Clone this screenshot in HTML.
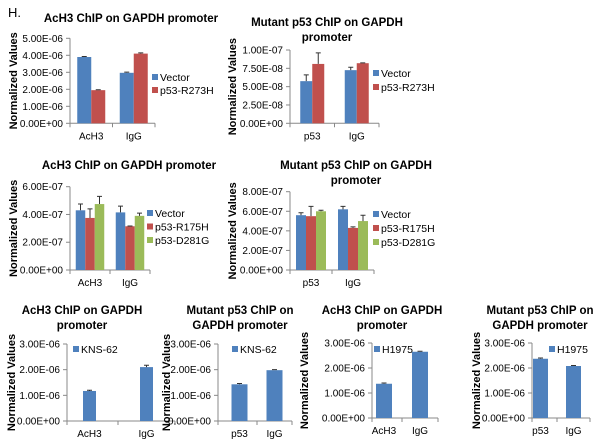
<!DOCTYPE html>
<html><head><meta charset="utf-8"><style>
body{margin:0;background:#fff;}
svg{display:block;font-family:"Liberation Sans",sans-serif;}
</style></head><body>
<svg id="fig" width="600" height="443" viewBox="0 0 600 443" xmlns="http://www.w3.org/2000/svg">
<text x="8" y="17" font-size="13">H.</text>
</svg>
<script>
// Chart 1
const c1Categories=["AcH3","IgG"];
const c1Vector=[3.9e-6,2.97e-6];
const c1VectorErr=[0.03e-6,0.04e-6];
const c1R273H=[1.95e-6,4.1e-6];
const c1R273HErr=[0.02e-6,0.04e-6];
const c1Ticks=["0.00E+00","1.00E-06","2.00E-06","3.00E-06","4.00E-06","5.00E-06"];
// Chart 2
const c2Categories=["p53","IgG"];
const c2Vector=[5.75e-8,7.25e-8];
const c2VectorErr=[0.85e-8,0.4e-8];
const c2R273H=[8.1e-8,8.2e-8];
const c2R273HErr=[1.5e-8,0.05e-8];
const c2Ticks=["0.00E+00","2.50E-08","5.00E-08","7.50E-08","1.00E-07"];
// Chart 3
const c3Categories=["AcH3","IgG"];
const c3Vector=[4.3e-7,4.15e-7];
const c3VectorErr=[0.45e-7,0.45e-7];
const c3R175H=[3.75e-7,3.15e-7];
const c3R175HErr=[0.65e-7,0.02e-7];
const c3D281G=[4.75e-7,3.9e-7];
const c3D281GErr=[0.55e-7,0.2e-7];
const c3Ticks=["0.00E+00","2.00E-07","4.00E-07","6.00E-07"];
// Chart 4
const c4Categories=["p53","IgG"];
const c4Vector=[5.6e-7,6.2e-7];
const c4VectorErr=[0.25e-7,0.3e-7];
const c4R175H=[5.5e-7,4.3e-7];
const c4R175HErr=[1.0e-7,0.1e-7];
const c4D281G=[6.0e-7,5.0e-7];
const c4D281GErr=[0.1e-7,0.6e-7];
const c4Ticks=["0.00E+00","2.00E-07","4.00E-07","6.00E-07","8.00E-07"];
// Chart 5
const c5Categories=["AcH3","IgG"];
const c5KNS62=[1.17e-6,2.1e-6];
const c5KNS62Err=[0.03e-6,0.07e-6];
// Chart 6
const c6Categories=["p53","IgG"];
const c6KNS62=[1.43e-6,1.98e-6];
const c6KNS62Err=[0.03e-6,0.02e-6];
// Chart 7
const c7Categories=["AcH3","IgG"];
const c7H1975=[1.37e-6,2.65e-6];
const c7H1975Err=[0.03e-6,0.02e-6];
// Chart 8
const c8Categories=["p53","IgG"];
const c8H1975=[2.37e-6,2.08e-6];
const c8H1975Err=[0.03e-6,0.02e-6];
const bottomTicks=["0.00E+00","1.00E-06","2.00E-06","3.00E-06"];

const NS="http://www.w3.org/2000/svg";
const svg=document.getElementById('fig');
const COLORS={blue:"#4f81bd",red:"#c0504d",green:"#9bbb59"};
function mk(tag,attrs,parent){const e=document.createElementNS(NS,tag);for(const k in attrs)e.setAttribute(k,attrs[k]);(parent||svg).appendChild(e);return e;}

function drawChart(id,L,cats,series,ticks,max,titleLines,legend){
  const g=mk('g',{});
  
  
  const y=v=>L.yBot-(v/max)*(L.yBot-L.yTop);
  const gw=(L.x1-L.x0)/cats.length;
  const cx=i=>L.x0+(i+0.5)*gw;
  // title
  titleLines.forEach((t,i)=>{
    const e=mk('text',{x:L.tx,y:L.ty+i*15,'text-anchor':'middle','font-size':11.5,'font-weight':'bold',fill:'#000'},g);
    
    
    e.textContent=t;
  });
  // y title
  const yt=mk('text',{x:0,y:0,'text-anchor':'middle','font-size':11,'font-weight':'bold',transform:`translate(${L.ytx},${(L.yTop+L.yBot)/2}) rotate(-90)`},g);
  
  
  yt.textContent="Normalized Values";
  // ticks
  ticks.forEach((t,i)=>{
    const v=max*i/(ticks.length-1), yy=y(v);
    const tl=mk('text',{x:L.ax-7,y:yy+3.5,'text-anchor':'end','font-size':10,fill:'#000'},g);
    
    
    tl.textContent=t;
    mk('line',{x1:L.ax-4,x2:L.ax,y1:yy,y2:yy,stroke:'#888','stroke-width':1},g);
  });
  mk('line',{x1:L.ax,x2:L.ax,y1:L.yTop,y2:L.yBot,stroke:'#888','stroke-width':1},g);
  mk('line',{x1:L.ax,x2:L.x1,y1:L.yBot,y2:L.yBot,stroke:'#888','stroke-width':1},g);
  for(let i=0;i<=cats.length;i++){const xx=(i===0?L.ax:L.x0+i*gw);mk('line',{x1:xx,x2:xx,y1:L.yBot,y2:L.yBot+4,stroke:'#888'},g);}
  // bars
  const n=series.length;
  cats.forEach((c,i)=>{
    const cl=mk('text',{x:cx(i),y:L.yBot+16,'text-anchor':'middle','font-size':10,fill:'#000'},g);
    
    
    cl.textContent=c;
    series.forEach((s,j)=>{
      const bx=cx(i)-n*L.bw/2+j*L.bw;
      const top=y(s.vals[i]);
      const r=mk('rect',{x:bx,y:top,width:L.bw,height:L.yBot-top,fill:COLORS[s.color]},g);
      
      
      const et=y(s.vals[i]+s.err[i]), mx=bx+L.bw/2;
      const eb=mk('path',{d:`M${mx},${top}V${et}M${mx-2.5},${et}H${mx+2.5}`,stroke:'#333','stroke-width':1,fill:'none'},g);
      
      
    });
  });
  // legend
  series.forEach((s,j)=>{
    const ly=legend.y+j*legend.dy;
    mk('rect',{x:legend.x,y:ly-7,width:6,height:6,fill:COLORS[s.color]},g);
    const lt=mk('text',{x:legend.x+8,y:ly,'font-size':10.5,fill:'#000'},g);
    
    
    lt.textContent=s.label;
  });
}

drawChart('chart-1-ach3-r273h',{x0:70,x1:155,ax:70,yTop:38.3,yBot:123.3,bw:14,tx:131,ty:22,ytx:17},
  c1Categories,[{key:'vector',label:'Vector',color:'blue',vals:c1Vector,err:c1VectorErr},{key:'r273h',label:'p53-R273H',color:'red',vals:c1R273H,err:c1R273HErr}],
  c1Ticks,5e-6,["AcH3 ChIP on GAPDH promoter"],{x:152,y:81,dy:13});
drawChart('chart-2-p53-r273h',{x0:290,x1:379,ax:290,yTop:50,yBot:123.3,bw:12,tx:327,ty:26,ytx:236},
  c2Categories,[{key:'vector',label:'Vector',color:'blue',vals:c2Vector,err:c2VectorErr},{key:'r273h',label:'p53-R273H',color:'red',vals:c2R273H,err:c2R273HErr}],
  c2Ticks,1e-7,["Mutant p53 ChIP on GAPDH","promoter"],{x:373,y:77,dy:14});
drawChart('chart-3-ach3-r175h-d281g',{x0:70,x1:150,ax:70,yTop:186.7,yBot:270,bw:9.5,tx:129,ty:169,ytx:17},
  c3Categories,[{key:'vector',label:'Vector',color:'blue',vals:c3Vector,err:c3VectorErr},{key:'r175h',label:'p53-R175H',color:'red',vals:c3R175H,err:c3R175HErr},{key:'d281g',label:'p53-D281G',color:'green',vals:c3D281G,err:c3D281GErr}],
  c3Ticks,6e-7,["AcH3 ChIP on GAPDH promoter"],{x:147,y:217,dy:13.5});
drawChart('chart-4-p53-r175h-d281g',{x0:290,x1:374,ax:290,yTop:191.7,yBot:270,bw:10,tx:356,ty:169,ytx:236},
  c4Categories,[{key:'vector',label:'Vector',color:'blue',vals:c4Vector,err:c4VectorErr},{key:'r175h',label:'p53-R175H',color:'red',vals:c4R175H,err:c4R175HErr},{key:'d281g',label:'p53-D281G',color:'green',vals:c4D281G,err:c4D281GErr}],
  c4Ticks,8e-7,["Mutant p53 ChIP on GAPDH","promoter"],{x:373,y:218,dy:14});
drawChart('chart-5-kns62-ach3',{x0:61,x1:175,ax:67,yTop:344,yBot:421,bw:13,tx:82,ty:314,ytx:15},
  c5Categories,[{key:'kns62',label:'KNS-62',color:'blue',vals:c5KNS62,err:c5KNS62Err}],
  bottomTicks,3e-6,["AcH3 ChIP on GAPDH","promoter"],{x:73,y:353,dy:14});
drawChart('chart-6-kns62-p53',{x0:222,x1:292,ax:218,yTop:344,yBot:421,bw:16,tx:240,ty:314,ytx:170},
  c6Categories,[{key:'kns62',label:'KNS-62',color:'blue',vals:c6KNS62,err:c6KNS62Err}],
  bottomTicks,3e-6,["Mutant p53 ChIP on","GAPDH promoter"],{x:232,y:353,dy:14});
drawChart('chart-7-h1975-ach3',{x0:366,x1:438,ax:372,yTop:343,yBot:418,bw:16,tx:382,ty:314,ytx:308},
  c7Categories,[{key:'h1975',label:'H1975',color:'blue',vals:c7H1975,err:c7H1975Err}],
  bottomTicks,3e-6,["AcH3 ChIP on GAPDH","promoter"],{x:374,y:353,dy:14});
drawChart('chart-8-h1975-p53',{x0:524,x1:590,ax:532,yTop:343,yBot:418,bw:15,tx:540,ty:314,ytx:480},
  c8Categories,[{key:'h1975',label:'H1975',color:'blue',vals:c8H1975,err:c8H1975Err}],
  bottomTicks,3e-6,["Mutant p53 ChIP on","GAPDH promoter"],{x:549,y:353,dy:14});
</script>
</body></html>
